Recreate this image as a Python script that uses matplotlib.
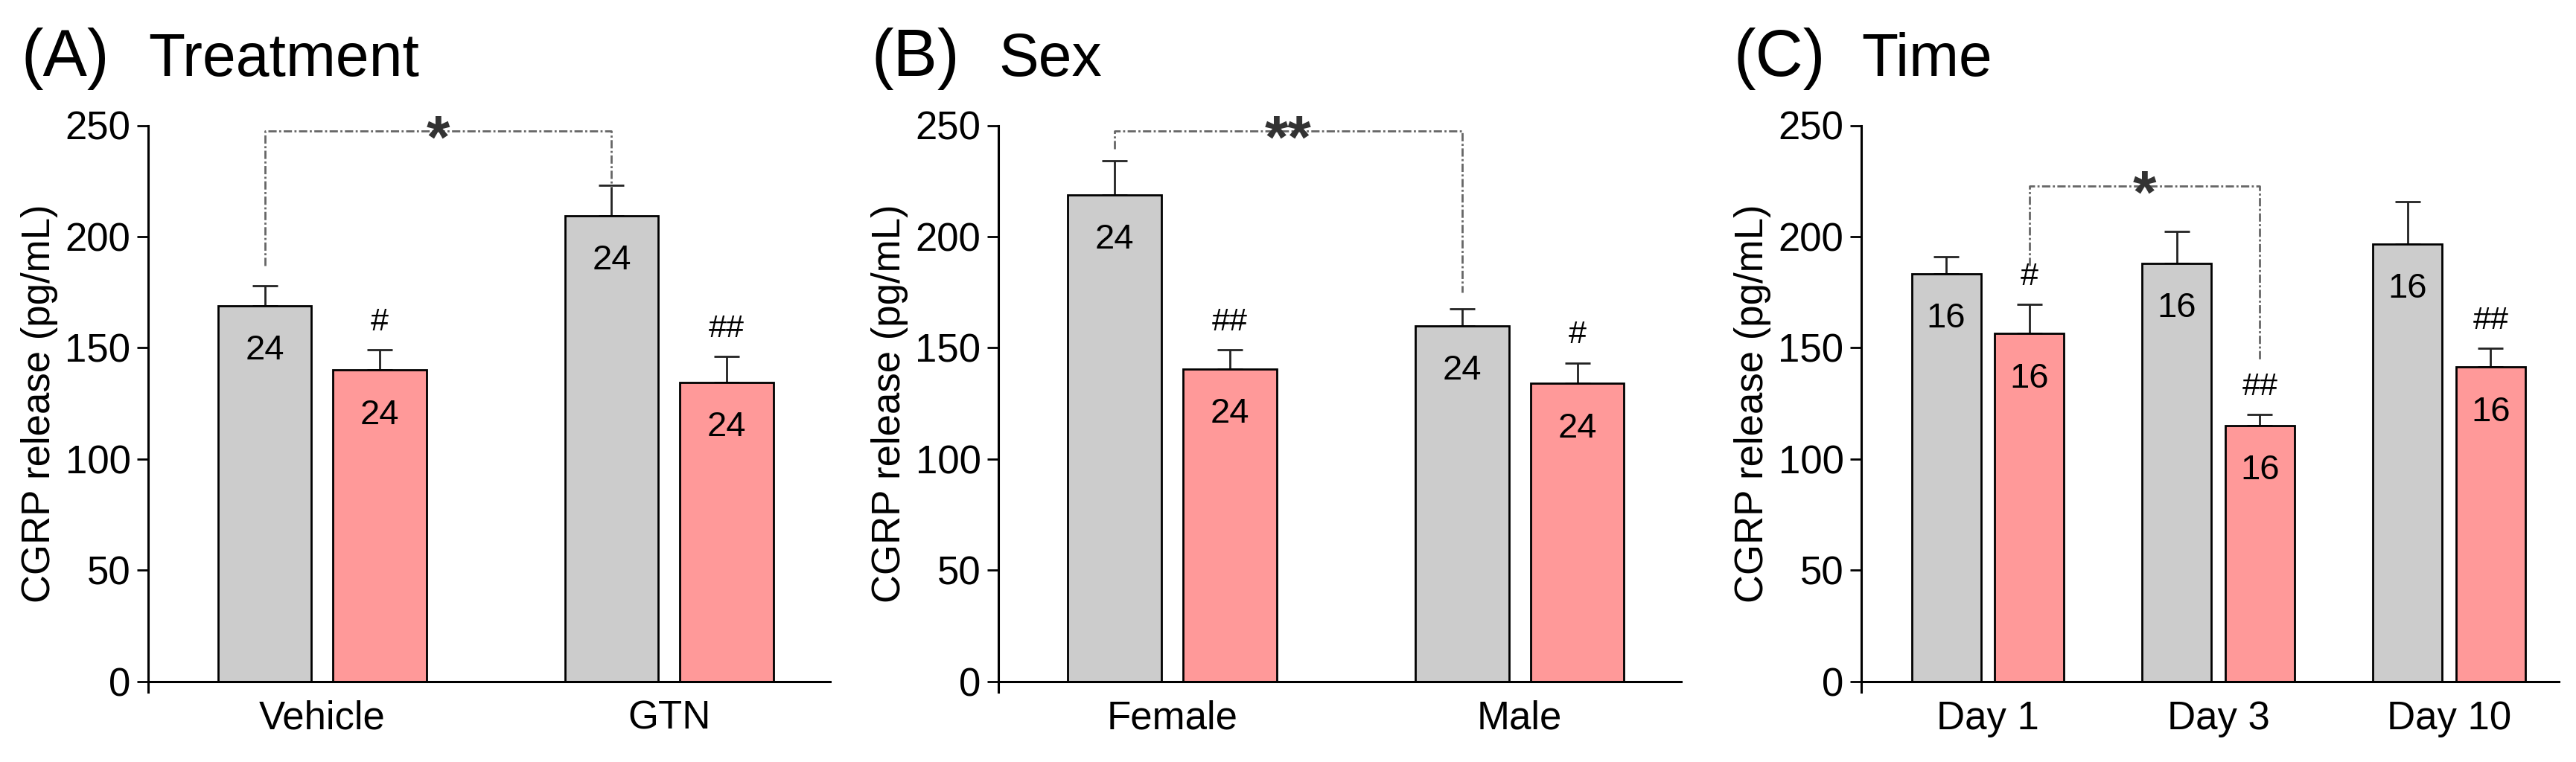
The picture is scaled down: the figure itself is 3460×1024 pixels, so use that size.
import matplotlib
matplotlib.use('Agg')
import matplotlib.pyplot as plt
import numpy as np

plt.rcParams['font.family'] = ['Liberation Sans', 'DejaVu Sans']

# ---------------- data ----------------
# Panel A: Treatment
a_title = 'Treatment'
a_tag = '(A)'
a_cats = ['Vehicle', 'GTN']
a_gray = [169.0, 209.5]
a_gray_err = [9.0, 13.5]
a_pink = [140.0, 134.5]
a_pink_err = [9.0, 11.5]
a_n_gray = ['24', '24']
a_n_pink = ['24', '24']
a_hash = ['#', '##']

# Panel B: Sex
b_title = 'Sex'
b_tag = '(B)'
b_cats = ['Female', 'Male']
b_gray = [218.7, 160.0]
b_gray_err = [15.5, 7.5]
b_pink = [140.5, 134.0]
b_pink_err = [8.5, 9.3]
b_n_gray = ['24', '24']
b_n_pink = ['24', '24']
b_hash = ['##', '#']

# Panel C: Time
c_title = 'Time'
c_tag = '(C)'
c_cats = ['Day 1', 'Day 3', 'Day 10']
c_gray = [183.3, 188.0, 196.6]
c_gray_err = [7.6, 14.2, 19.1]
c_pink = [156.4, 115.0, 141.3]
c_pink_err = [13.1, 4.9, 8.5]
c_n_gray = ['16', '16', '16']
c_n_pink = ['16', '16', '16']
c_hash = ['#', '##', '##']

y_ticks = [0, 50, 100, 150, 200, 250]
y_label = 'CGRP release (pg/mL)'

# significance brackets: (from (series, group), to (series, group), bar y, left bottom, right bottom, label)
a_sig = (('gray', 0), ('gray', 1), 247.5, 187.0, 222.0, '*')
b_sig = (('gray', 0), ('gray', 1), 247.5, 239.5, 175.0, '**')
c_sig = (('pink', 0), ('pink', 1), 222.7, 187.0, 144.6, '*')

GRAY = '#CCCCCC'
PINK = '#FF9999'

fig = plt.figure(figsize=(34.6, 10.24), dpi=100)

W, H = 3460.0, 1024.0
bottom = 1 - 930 / H
height = (930 - 168.5) / H

panels = [
    dict(left=199, right=1115, xlim=(-0.502, 1.464), bw=0.27, off=0.166,
         tag=a_tag, title=a_title, cats=a_cats, gray=a_gray, gerr=a_gray_err,
         pink=a_pink, perr=a_pink_err, ng=a_n_gray, np_=a_n_pink, hashes=a_hash, sig=a_sig),
    dict(left=1341, right=2258, xlim=(-0.5005, 1.465), bw=0.27, off=0.166,
         tag=b_tag, title=b_title, cats=b_cats, gray=b_gray, gerr=b_gray_err,
         pink=b_pink, perr=b_pink_err, ng=b_n_gray, np_=b_n_pink, hashes=b_hash, sig=b_sig),
    dict(left=2500, right=3437, xlim=(-0.548, 2.476), bw=0.30, off=0.18,
         tag=c_tag, title=c_title, cats=c_cats, gray=c_gray, gerr=c_gray_err,
         pink=c_pink, perr=c_pink_err, ng=c_n_gray, np_=c_n_pink, hashes=c_hash, sig=c_sig),
]

STAR_FS = 58

for p in panels:
    ax = fig.add_axes([p['left'] / W, bottom, (p['right'] - p['left']) / W, height])
    x = np.arange(len(p['cats']))
    xg = x - p['off']
    xp = x + p['off']
    ax.bar(xg, p['gray'], width=p['bw'], color=GRAY, edgecolor='black', linewidth=2.0, zorder=2)
    ax.bar(xp, p['pink'], width=p['bw'], color=PINK, edgecolor='black', linewidth=2.0, zorder=2)
    for xs, vals, errs in ((xg, p['gray'], p['gerr']), (xp, p['pink'], p['perr'])):
        ax.errorbar(xs, vals, yerr=[np.zeros(len(vals)), errs], fmt='none', ecolor='#222222',
                    elinewidth=2.0, capsize=12, capthick=2.0, zorder=1)
    # n labels
    for xs, vals, labs in ((xg, p['gray'], p['ng']), (xp, p['pink'], p['np_'])):
        for xi, v, t in zip(xs, vals, labs):
            ax.annotate(t, (xi, v), xytext=(0, -52), textcoords='offset points',
                        ha='center', va='baseline', fontsize=34, color='black', zorder=3)
    # hash labels
    for xi, v, e, t in zip(xp, p['pink'], p['perr'], p['hashes']):
        ax.annotate(t, (xi, v + e), xytext=(0, 19), textcoords='offset points',
                    ha='center', va='baseline', fontsize=31, color='black')
    # significance bracket
    (s1, g1), (s2, g2), yb, lb, rb, lab = p['sig']
    xa = (xg if s1 == 'gray' else xp)[g1]
    xb = (xg if s2 == 'gray' else xp)[g2]
    ax.plot([xa, xa, xb, xb], [lb, yb, yb, rb], color='#666666', lw=2.0,
            linestyle=(0, (4, 1.2, 1, 1.2)), zorder=1, clip_on=False)
    ax.annotate(lab, ((xa + xb) / 2, yb), xytext=(0, -0.44 * STAR_FS), textcoords='offset points',
                ha='center', va='baseline', fontsize=STAR_FS, fontweight='bold', color='#333333',
                bbox=dict(boxstyle='square,pad=0.0', fc='none', ec='none'))

    ax.set_xlim(*p['xlim'])
    ax.set_ylim(-4.7, 250)
    ax.set_yticks(y_ticks)
    ax.set_xticks(x)
    ax.set_xticklabels(p['cats'])
    ax.spines['top'].set_visible(False)
    ax.spines['right'].set_visible(False)
    ax.spines['bottom'].set_position(('data', 0))
    ax.spines['left'].set_linewidth(2.2)
    ax.spines['bottom'].set_linewidth(2.2)
    ax.tick_params(axis='y', direction='out', length=11, width=2.0, labelsize=38, pad=6)
    ax.tick_params(axis='x', length=0, labelsize=38, pad=18)
    ax.set_ylabel(y_label, fontsize=38)
    ax.yaxis.set_label_coords(-146 / (p['right'] - p['left']), 0.5 + 0.5 * 4.7 / 254.7)
    ax.yaxis.label.set_verticalalignment('center')

    fig.text((p['left'] - 171) / W, 0.9, p['tag'], fontsize=64, va='baseline', ha='left')
    fig.text(p['left'] / W, 0.9, p['title'], fontsize=58, va='baseline', ha='left')

fig.savefig('out.png', dpi=100)
